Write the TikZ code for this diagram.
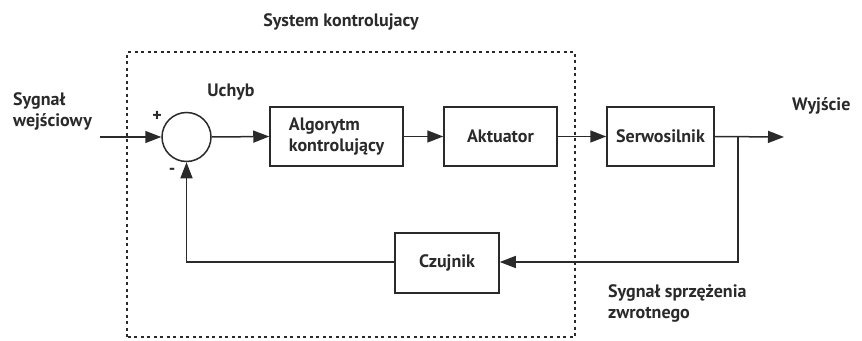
\documentclass[tikz,border=0pt]{standalone}
\usepackage{fontspec}
\setmainfont{PT Sans}
\usetikzlibrary{arrows.meta}
\definecolor{ink}{HTML}{2A2A2A}
\begin{document}
\begin{tikzpicture}[x=1pt,y=-1pt,
  blk/.style={draw=ink,line width=1.5pt,minimum height=59pt,inner sep=0pt,font=\bfseries\fontsize{18}{21}\selectfont,text=ink},
  conn/.style={draw=ink,line width=1.5pt},
  arr/.style={conn,-{Triangle[length=16pt,width=12pt]}},
  lbl/.style={font=\bfseries\fontsize{18}{21}\selectfont,text=ink,inner sep=0pt},
  dotbox/.style={draw=ink,line width=1.6pt,dash pattern=on 3pt off 3.5pt}]
\useasboundingbox (0,0) rectangle (862,340);
% dotted boundary
\draw[dotbox] (127,337) -- (127,52) -- (575,52) -- (575,337) -- cycle;
% blocks
\node[draw=ink,line width=1.5pt,circle,minimum size=49pt,inner sep=0pt] (sum) at (186.5,137) {};
\node[blk,minimum width=133pt,align=left] (alg) at (336.5,136.5) {Algorytm\\kontrolujący};
\node[blk,minimum width=113pt] (akt) at (500.5,136.5) {Aktuator};
\node[blk,minimum width=107pt] (serw) at (660.5,136.5) {Serwosilnik};
\node[blk,minimum width=104pt,minimum height=60pt] (czu) at (447,263) {Czujnik};
% helper coordinates
\coordinate (in) at (100,137);
\coordinate (out) at (784,137);
\coordinate (br) at (738,137);
\coordinate (brd) at (738,262);
\coordinate (fb) at (186.5,262);
% connectors
\draw[arr] (in) -- (sum.west);
\draw[arr] (sum.east) -- (alg.west);
\draw[arr] (alg.east) -- (akt.west);
\draw[arr] (akt.east) -- (serw.west);
\draw[arr] (serw.east) -- (out);
\draw[arr] (br) -- (brd) -- (czu.east |- brd);
\draw[arr] (czu.west |- fb) -- (fb) -- (sum.south);
% labels
\node[lbl] (sys) at (341,22) {System kontrolujacy};
\node[lbl] (uch) at (231,92) {Uchyb};
\node[lbl,align=left,anchor=west] (inl) at (13,111) {Sygnał\\wejściowy};
\node[lbl] (plus) at (157,116) {+};
\node[lbl] (minus) at (172,171) {-};
\node[lbl,anchor=west] (outl) at (792,106) {Wyjście};
\node[lbl,align=left,anchor=west] (fbl) at (608,303) {Sygnał sprzężenia\\zwrotnego};
\end{tikzpicture}
\end{document}
